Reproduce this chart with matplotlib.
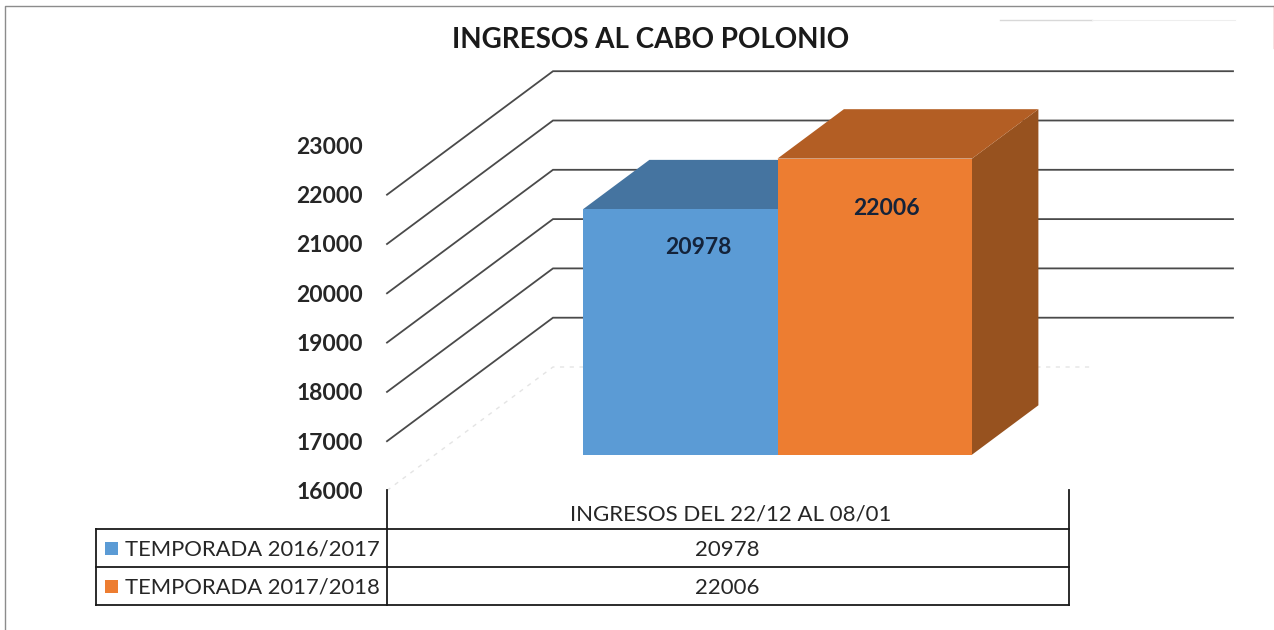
import matplotlib
matplotlib.use("Agg")
import matplotlib.pyplot as plt
from matplotlib.patches import Polygon, Rectangle

plt.rcParams['font.family'] = ['Lato', 'DejaVu Sans']

title = "INGRESOS AL CABO POLONIO"
category = "INGRESOS DEL 22/12 AL 08/01"
series_names = ["TEMPORADA 2016/2017", "TEMPORADA 2017/2018"]
series_values = [20978, 22006]
ticks = [16000, 17000, 18000, 19000, 20000, 21000, 22000, 23000]
front_colors = ["#5B9BD5", "#ED7D31"]
top_colors = ["#4574A0", "#B35E24"]
side_color = "#97521F"
label_offsets = [(18, 38), (12, 50)]

W, H = 1274, 630
fig = plt.figure(figsize=(W / 100, H / 100), dpi=100)
ax = fig.add_axes([0, 0, 1, 1])
ax.set_xlim(0, W)
ax.set_ylim(H, 0)
ax.axis("off")

# axis geometry of the oblique 3-D chart
Y0, PX_PER_UNIT = 490.5, 49.3 / 1000
DX, DY = 166, -123.5          # full depth of the floor
X_LEFT, X_RIGHT = 387, 1233
BAR_X0, BAR_W = 583, 194.5
BAR_D0, BAR_D = 0.29, 0.40    # bar depth start / extent, as floor fractions

def py(v, d=0.0):
    return Y0 - (v - ticks[0]) * PX_PER_UNIT + DY * d

def px(x, d=0.0):
    return x + DX * d

# frame of the screenshot
ax.plot([5, 5, 1273], [H, 6, 6], color="#8c8c8c", lw=1.0, zorder=1)
ax.plot([1273.5, 1273.5], [6, 48], color="#e06666", lw=1.0, zorder=1)
ax.plot([1000, 1092], [20, 20], color="#d8d8d8", lw=1.0, zorder=1)
ax.plot([1092, 1235], [20, 20], color="#eeeeee", lw=0.8, zorder=1)

# gridlines: floor and side wall + back wall
for t in ticks[:-1]:
    if t == ticks[0]:
        ax.plot([X_LEFT, px(X_LEFT, 1), 1090], [py(t), py(t, 1), py(t, 1)],
                color="#e4e4e4", lw=1.0, ls=(0, (3, 4)), zorder=2)
    else:
        ax.plot([X_LEFT, px(X_LEFT, 1), X_RIGHT], [py(t), py(t, 1), py(t, 1)],
                color="#4a4a4a", lw=1.3, zorder=2, solid_joinstyle="miter")
# tick labels
for t in ticks:
    ax.text(363, py(t) + 2, str(t), ha="right", va="center", fontsize=16.5,
            fontweight="bold", color="#262626", zorder=6)

# 3-D bars
base = ticks[0]
x = BAR_X0
for i, v in enumerate(series_values):
    f0 = BAR_D0
    xa, xb = x, x + BAR_W
    yb, yt = py(base, f0), py(v, f0)
    dx = DX * BAR_D
    dy = DY * BAR_D
    if i == len(series_values) - 1:
        ax.add_patch(Polygon([(xb, yt), (xb + dx, yt + dy), (xb + dx, yb + dy), (xb, yb)],
                             fc=side_color, ec="none", zorder=3))
    ax.add_patch(Polygon([(xa, yt), (xa + dx, yt + dy), (xb + dx, yt + dy), (xb, yt)],
                         fc=top_colors[i], ec="none", zorder=3 + i))
    ax.add_patch(Rectangle((xa, yt), BAR_W, yb - yt, fc=front_colors[i], ec="none", zorder=4 + i))
    ox, oy = label_offsets[i]
    ax.text((xa + xb) / 2 + ox, yt + oy, str(v), ha="center", va="center", fontsize=16.5,
            fontweight="bold", color="#14233a", zorder=7)
    x = xb

# title
ax.text(651, 40, title, ha="center", va="center", fontsize=20, fontweight="bold",
        color="#1a1a1a", zorder=7)

# data table
TL, TM, TR = 96, 386.5, 1069
R0, R1, R2, R3 = 490, 529, 567, 605
lc = "#1a1a1a"
ax.plot([TM, TM], [R0, R3], color=lc, lw=1.3, zorder=5)
ax.plot([TR, TR], [R0, R3], color=lc, lw=1.3, zorder=5)
ax.plot([TL, TL], [R1, R3], color=lc, lw=1.3, zorder=5)
for r in (R1, R2, R3):
    ax.plot([TL, TR], [r, r], color=lc, lw=1.3, zorder=5)
ax.text((TM + TR) / 2 + 3, (R0 + R1) / 2 + 5, category, ha="center", va="center",
        fontsize=16, color="#262626")
rows = [(R1, R2), (R2, R3)]
for (ra, rb), name, v, col in zip(rows, series_names, series_values, front_colors):
    ym = (ra + rb) / 2
    ax.add_patch(Rectangle((105, ym - 6.5), 13, 13, fc=col, ec="none"))
    ax.text(125, ym + 1, name, ha="left", va="center", fontsize=15.8, color="#262626")
    ax.text((TM + TR) / 2, ym + 2, str(v), ha="center", va="center", fontsize=16, color="#262626")

fig.savefig("out.png", dpi=100, facecolor="white")
